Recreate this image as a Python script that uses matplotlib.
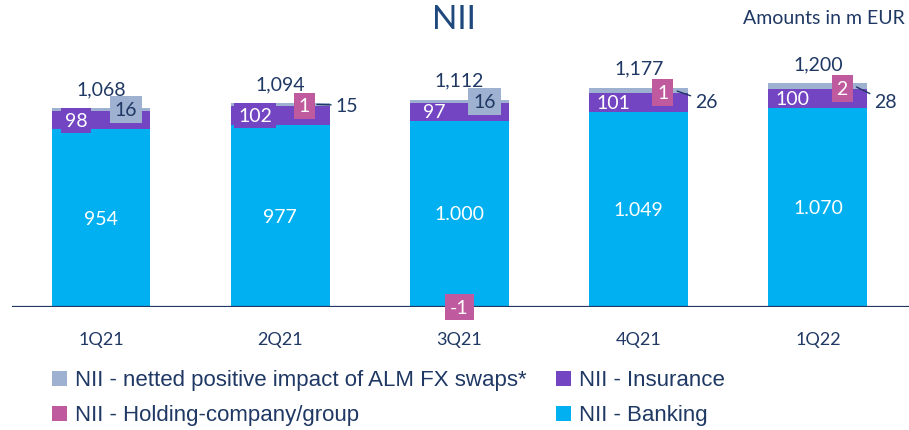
import matplotlib
matplotlib.use("Agg")
import matplotlib.pyplot as plt
from matplotlib.patches import Rectangle

# ---- data ----
quarters = ["1Q21", "2Q21", "3Q21", "4Q21", "1Q22"]
banking = [954, 977, 1000, 1049, 1070]
insurance = [98, 102, 97, 101, 100]
holding = [0, 1, -1, 1, 2]
alm_fx = [16, 15, 16, 26, 28]
totals = [1068, 1094, 1112, 1177, 1200]
banking_labels = ["954", "977", "1.000", "1.049", "1.070"]
total_labels = ["1,068", "1,094", "1,112", "1,177", "1,200"]
legend_labels = ["NII - netted positive impact of ALM FX swaps*", "NII - Insurance",
                 "NII - Holding-company/group", "NII - Banking"]

# ---- style ----
C_BANK = "#00B0F0"
C_INS = "#7345C2"
C_HOLD = "#C05A9F"
C_ALM = "#9EB1D1"
C_TXT = "#1F3864"
C_TITLE = "#1F497D"
FONT = ["Lato", "DejaVu Sans"]
plt.rcParams["font.family"] = FONT

fig = plt.figure(figsize=(9.09, 4.31), dpi=100)
ax = fig.add_axes([12 / 909, (431 - 308) / 431, 1 - 12 / 909, 0.6051])

x = list(range(len(quarters)))
w = 0.552

ax.bar(x, banking, w, color=C_BANK, zorder=2)
ax.bar(x, insurance, w, bottom=banking, color=C_INS, zorder=2)
hold_bottom = []
alm_bottom = []
for b, i, h in zip(banking, insurance, holding):
    if h >= 0:
        hold_bottom.append(b + i)
        alm_bottom.append(b + i + h)
    else:
        hold_bottom.append(0)
        alm_bottom.append(b + i)
ax.bar(x, holding, w, bottom=hold_bottom, color=C_HOLD, zorder=2)
ax.bar(x, alm_fx, w, bottom=alm_bottom, color=C_ALM, zorder=2)

ax.set_xlim(-0.4965, 4.508)
ax.set_ylim(0, 1400)
ax.axhline(0, color="#1F3864", lw=1.6, zorder=3)
for s in ax.spines.values():
    s.set_visible(False)
ax.set_xticks([])
ax.set_yticks([])

fs = 14
for xi, q in zip(x, quarters):
    ax.text(xi, -170, q, ha="center", va="center", fontsize=13, color=C_TXT)

# banking labels
for xi, b, lab in zip(x, banking, banking_labels):
    ax.text(xi, b / 2, lab, ha="center", va="center", fontsize=fs, color="white", zorder=5)

# insurance labels
ins_box = [True, True, False, False, False]
for xi, b, v, bx in zip(x, banking, insurance, ins_box):
    kw = {}
    if bx:
        kw["bbox"] = dict(boxstyle="square,pad=0.2", fc=C_INS, ec="none")
    ax.text(xi - 0.14, b + v / 2, str(v), ha="center", va="center", fontsize=fs,
            color="white", zorder=6, **kw)

# holding labels
for xi, hb, h in zip(x, hold_bottom, holding):
    if h == 0:
        continue
    xx = xi + 0.135 if h > 0 else xi
    ax.text(xx, hb + h / 2, str(h), ha="center", va="center", fontsize=fs,
            color="white", zorder=7,
            bbox=dict(boxstyle="square,pad=0.25", fc=C_HOLD, ec="none"))

# ALM labels
alm_inside = [True, False, True, False, False]
for xi, ab, a, inside in zip(x, alm_bottom, alm_fx, alm_inside):
    yc = ab + a / 2
    if inside:
        ax.text(xi + 0.14, yc, str(a), ha="center", va="center", fontsize=fs,
                color=C_TXT, zorder=6,
                bbox=dict(boxstyle="square,pad=0.25", fc=C_ALM, ec="none"))
    else:
        if xi == 1:
            xy = (xi + 0.205, yc)
            xt = (xi + 0.37, yc - 5)
        else:
            xy = (xi + 0.215, yc - 5)
            xt = (xi + 0.375, 1105)
        ax.annotate(str(a), xy=xy, xytext=xt, ha="center", va="center",
                    fontsize=fs, color=C_TXT, zorder=6,
                    arrowprops=dict(arrowstyle="-", color=C_TXT, lw=1.0,
                                    shrinkA=1, shrinkB=0))

# totals
for xi, t, lab in zip(x, totals, total_labels):
    ax.annotate(lab, xy=(xi, t), xytext=(0, 8), textcoords="offset points",
                ha="center", va="bottom", fontsize=fs, color=C_TXT)

fig.text(454 / 909, 1 - 20 / 431, "NII", ha="center", va="center",
         fontsize=24, color=C_TITLE)
fig.text(905 / 909, 1 - 18 / 431, "Amounts in m EUR", ha="right", va="center",
         fontsize=14, color=C_TXT)

# legend (manual, 2 columns)
leg_colors = [C_ALM, C_INS, C_HOLD, C_BANK]
leg_pos = [(52, 379), (556, 379), (52, 414), (556, 414)]
for (px, py), col, lab in zip(leg_pos, leg_colors, legend_labels):
    fig.patches.append(Rectangle((px / 909, 1 - (py + 8) / 431), 15 / 909, 15 / 431,
                                 transform=fig.transFigure, facecolor=col,
                                 edgecolor="none"))
    fig.text((px + 23) / 909, 1 - (py + 2) / 431, lab, ha="left", va="center",
             fontsize=16, color=C_TXT, family=["Liberation Sans"])

fig.savefig("out.png", dpi=100)
